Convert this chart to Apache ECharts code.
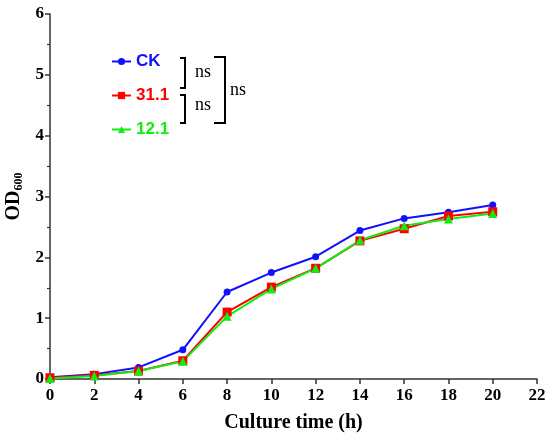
<!DOCTYPE html>
<html><head><meta charset="utf-8">
<script src="https://cdn.jsdelivr.net/npm/echarts@6/dist/echarts.min.js"></script>
<style>html,body{margin:0;padding:0;background:#fff}#c{width:550px;height:437px}</style>
</head><body><div id="c"></div>
<script>
var hours = [0, 2, 4, 6, 8, 10, 12, 14, 16, 18, 20];
var ck = [0.03, 0.08, 0.19, 0.48, 1.43, 1.75, 2.01, 2.44, 2.64, 2.74, 2.86];
var s311 = [0.02, 0.06, 0.13, 0.30, 1.10, 1.51, 1.82, 2.27, 2.47, 2.68, 2.75];
var s121 = [0.01, 0.05, 0.13, 0.29, 1.03, 1.48, 1.82, 2.28, 2.52, 2.63, 2.72];
var seriesNames = ['CK', '31.1', '12.1'];
var colors = ['#1010ff', '#ff0000', '#10ee10'];
var sigLabel = 'ns';

function pairs(v){ return hours.map(function(h,i){ return [h, v[i]]; }); }

var chart = echarts.init(document.getElementById('c'));
var serif = '"Liberation Serif", "Times New Roman", serif';
var sans = '"Liberation Sans", Arial, sans-serif';
chart.setOption({
  animation: false,
  grid: { left: 50, right: 13, top: 14, bottom: 58, containLabel: false, outerBoundsMode: 'none' },
  legend: {
    orient: 'vertical', left: 106, top: 48, itemGap: 17, itemWidth: 19, itemHeight: 9,
    data: seriesNames.map(function(n, i){ return { name: n, textStyle: { color: colors[i] } }; }),
    textStyle: { fontFamily: sans, fontWeight: 'bold', fontSize: 17 }
  },
  xAxis: {
    type: 'value', min: 0, max: 22, interval: 2,
    name: 'Culture time (h)', nameLocation: 'middle', nameGap: 34,
    nameTextStyle: { fontFamily: serif, fontWeight: 'bold', fontSize: 20, color: '#000' },
    axisLine: { lineStyle: { color: '#333', width: 1.5 } },
    axisTick: { show: true, inside: false, length: 5, lineStyle: { color: '#333', width: 1.5 } },
    axisLabel: { fontFamily: serif, fontWeight: 'bold', fontSize: 17, color: '#000', margin: 8 },
    splitLine: { show: false }
  },
  yAxis: {
    type: 'value', min: 0, max: 6, interval: 1,
    name: '{m|OD}{s|600}', nameLocation: 'middle', nameGap: 24, nameRotate: 90,
    nameTextStyle: { rich: {
      m: { fontFamily: serif, fontWeight: 'bold', fontSize: 20, color: '#000' },
      s: { fontFamily: serif, fontWeight: 'bold', fontSize: 12, color: '#000', verticalAlign: 'bottom', padding: [9, 0, 0, 0] }
    } },
    axisLine: { show: true, lineStyle: { color: '#333', width: 1.5 } },
    axisTick: { show: true, inside: false, length: 5, lineStyle: { color: '#333', width: 1.5 } },
    minorTick: { show: true, splitNumber: 2, length: 3, lineStyle: { color: '#333', width: 1.2 } },
    axisLabel: { fontFamily: serif, fontWeight: 'bold', fontSize: 17, color: '#000', margin: 6 },
    splitLine: { show: false }
  },
  series: [
    { name: seriesNames[0], type: 'line', data: pairs(ck), symbol: 'circle', symbolSize: 7,
      itemStyle: { color: colors[0] }, lineStyle: { width: 2, color: colors[0] } },
    { name: seriesNames[1], type: 'line', data: pairs(s311), symbol: 'rect', symbolSize: 9,
      itemStyle: { color: colors[1] }, lineStyle: { width: 2, color: colors[1] } },
    { name: seriesNames[2], type: 'line', data: pairs(s121), symbol: 'triangle', symbolSize: 9,
      itemStyle: { color: colors[2] }, lineStyle: { width: 2, color: colors[2] } }
  ],
  graphic: [
    { type: 'polyline', shape: { points: [[180, 58], [185, 58], [185, 88], [180, 88]] }, style: { stroke: '#000', lineWidth: 2, fill: null } },
    { type: 'polyline', shape: { points: [[180, 95], [185, 95], [185, 123], [180, 123]] }, style: { stroke: '#000', lineWidth: 2, fill: null } },
    { type: 'polyline', shape: { points: [[214, 57], [225, 57], [225, 123], [214, 123]] }, style: { stroke: '#000', lineWidth: 2, fill: null } },
    { type: 'text', left: 195, top: 63, style: { text: sigLabel, font: '18px ' + serif, fill: '#000' } },
    { type: 'text', left: 195, top: 96, style: { text: sigLabel, font: '18px ' + serif, fill: '#000' } },
    { type: 'text', left: 230, top: 81, style: { text: sigLabel, font: '18px ' + serif, fill: '#000' } }
  ]
});
</script></body></html>
